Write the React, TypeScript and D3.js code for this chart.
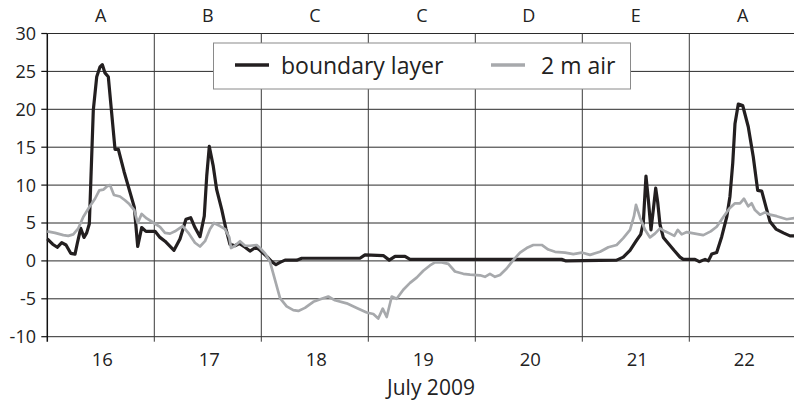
import { line, range, scaleLinear } from "d3";

const WIDTH = 794
const HEIGHT = 403

const days = [16, 17, 18, 19, 20, 21, 22]
const regimes = ["A", "B", "C", "C", "D", "E", "A"]
const yTicks = [-10, -5, 0, 5, 10, 15, 20, 25, 30]

// boundary layer (black)
const blTime = [
  15.500, 15.550, 15.593, 15.635, 15.675, 15.719, 15.759, 15.780, 15.812, 15.843,
  15.868, 15.893, 15.930, 15.962, 15.993, 16.014, 16.039, 16.070, 16.133, 16.164,
  16.217, 16.313, 16.345, 16.382, 16.422, 16.507, 16.553, 16.600, 16.684, 16.740,
  16.796, 16.840, 16.880, 16.927, 16.967, 16.990, 17.014, 17.051, 17.083, 17.130,
  17.170, 17.207, 17.254, 17.294, 17.348, 17.394, 17.450, 17.488, 17.550, 17.597,
  17.637, 17.675, 17.722, 17.831, 17.878, 18.422, 18.469, 18.640, 18.696, 18.750,
  18.843, 18.890, 20.307, 20.348, 20.821, 20.883, 20.946, 21.002, 21.046, 21.070,
  21.095, 21.117, 21.142, 21.164, 21.186, 21.205, 21.226, 21.257, 21.304, 21.357,
  21.413, 21.444, 21.553, 21.593, 21.647, 21.678, 21.710, 21.756, 21.803, 21.850,
  21.880, 21.906, 21.927, 21.958, 21.999, 22.051, 22.098, 22.139, 22.177, 22.217,
  22.254, 22.310, 22.379, 22.441, 22.497,
]
const blValue = [
  2.9, 2.2, 1.8, 2.4, 2.1, 1.0, 0.9, 2.3, 4.3, 3.1,
  3.7, 4.9, 19.9, 24.3, 25.6, 25.9, 24.8, 24.3, 14.7, 14.7,
  11.8, 7.1, 1.9, 4.4, 3.9, 3.9, 3.1, 2.6, 1.4, 2.9,
  5.5, 5.7, 4.4, 3.2, 5.9, 11.2, 15.1, 12.5, 9.4, 6.8,
  4.2, 2.2, 2.0, 2.3, 1.8, 1.3, 1.8, 1.4, 0.6, -0.1,
  -0.5, -0.2, 0.1, 0.1, 0.35, 0.35, 0.8, 0.7, 0.1, 0.6,
  0.6, 0.2, 0.2, 0.0, 0.1, 0.5, 1.4, 2.6, 3.5, 5.0,
  11.2, 8.1, 4.1, 6.8, 9.6, 7.7, 4.8, 3.1, 2.3, 1.4,
  0.5, 0.2, 0.2, -0.1, 0.2, 0.0, 0.9, 1.1, 3.2, 5.8,
  8.5, 12.9, 18.1, 20.7, 20.5, 17.7, 13.7, 9.3, 9.2, 7.1,
  5.2, 4.2, 3.7, 3.3, 3.3,
]

// 2 m air (grey)
const airTime = [
  15.500, 15.572, 15.650, 15.696, 15.743, 15.790, 15.836, 15.893, 15.946, 15.986,
  16.023, 16.055, 16.086, 16.123, 16.179, 16.226, 16.266, 16.313, 16.345, 16.382,
  16.429, 16.507, 16.553, 16.600, 16.647, 16.693, 16.765, 16.818, 16.880, 16.927,
  16.974, 17.021, 17.058, 17.114, 17.161, 17.201, 17.217, 17.254, 17.301, 17.348,
  17.394, 17.457, 17.488, 17.535, 17.581, 17.628, 17.675, 17.737, 17.799, 17.846,
  17.908, 17.986, 18.064, 18.126, 18.189, 18.298, 18.392, 18.485, 18.547, 18.593,
  18.635, 18.672, 18.719, 18.765, 18.827, 18.890, 18.952, 19.014, 19.076, 19.123,
  19.186, 19.248, 19.310, 19.388, 19.451, 19.544, 19.590, 19.637, 19.684, 19.731,
  19.793, 19.855, 19.918, 19.980, 20.042, 20.121, 20.182, 20.245, 20.338, 20.416,
  20.494, 20.572, 20.666, 20.743, 20.821, 20.883, 20.946, 20.983, 21.002, 21.040,
  21.086, 21.133, 21.179, 21.226, 21.273, 21.320, 21.360, 21.392, 21.429, 21.476,
  21.553, 21.631, 21.700, 21.756, 21.818, 21.874, 21.927, 21.974, 22.011, 22.051,
  22.083, 22.114, 22.161, 22.208, 22.254, 22.317, 22.410, 22.497,
]
const airValue = [
  3.9, 3.7, 3.4, 3.3, 3.5, 4.3, 5.8, 7.1, 8.2, 9.3,
  9.4, 9.8, 10.0, 8.7, 8.5, 8.0, 7.5, 6.7, 5.0, 6.2,
  5.6, 4.9, 4.5, 3.7, 3.6, 3.9, 4.6, 3.7, 2.4, 1.9,
  2.6, 4.2, 5.0, 4.6, 4.2, 3.1, 1.7, 2.0, 2.6, 2.0,
  2.0, 2.1, 1.7, 1.0, -0.1, -2.5, -4.9, -6.0, -6.5, -6.6,
  -6.2, -5.4, -5.0, -4.7, -5.2, -5.6, -6.2, -6.8, -7.0, -7.6,
  -6.3, -7.4, -4.7, -5.0, -3.8, -2.9, -2.2, -1.3, -0.6, -0.2,
  -0.2, -0.4, -1.4, -1.7, -1.8, -1.9, -2.1, -1.7, -2.1, -1.85,
  -1.0, 0.1, 1.1, 1.7, 2.1, 2.1, 1.5, 1.2, 1.1, 0.9,
  1.1, 0.8, 1.2, 1.8, 2.1, 3.0, 4.1, 5.9, 7.4, 5.7,
  4.1, 3.1, 3.6, 4.3, 3.9, 3.6, 3.3, 4.1, 3.5, 3.8,
  3.6, 3.4, 3.9, 4.5, 5.8, 6.9, 7.6, 7.6, 8.2, 7.2,
  7.6, 6.7, 6.1, 6.4, 6.1, 5.9, 5.5, 5.7,
]

const FONT = "'Open Sans', sans-serif"

export default function App() {
  const x = scaleLinear().domain([15.5, 22.5]).range([47.3, 796.3])
  const y = scaleLinear().domain([-10, 30]).range([336.7, 33.5])

  const blLine = line<number>()
    .x((_, i) => x(blTime[i]))
    .y((d) => y(d))
  const airLine = line<number>()
    .x((_, i) => x(airTime[i]))
    .y((d) => y(d))

  // day boundaries (noon-to-noon gridlines)
  const bounds = range(16.5, 22.5, 1)

  return (
    <svg
      width={WIDTH}
      height={HEIGHT}
      style={{ position: "absolute", left: 0, top: 0, background: "#fff" }}
      fontFamily={FONT}
    >
      {/* horizontal grid */}
      {yTicks.map((t) => (
        <line key={t} x1={x(15.5)} x2={WIDTH} y1={y(t)} y2={y(t)} stroke="#2b2b2b" strokeWidth={1} />
      ))}
      {/* vertical grid */}
      {bounds.map((b) => (
        <line key={b} x1={x(b)} x2={x(b)} y1={y(30)} y2={y(-10) + 5} stroke="#3a3a3a" strokeWidth={1} />
      ))}
      {/* left axis */}
      <line x1={x(15.5)} x2={x(15.5)} y1={y(30)} y2={y(-10) + 5} stroke="#111" strokeWidth={1.5} />
      {yTicks.map((t) => (
        <g key={t}>
          <line x1={x(15.5) - 6} x2={x(15.5)} y1={y(t)} y2={y(t)} stroke="#111" strokeWidth={1.2} />
          <text x={36} y={y(t)} dy="0.36em" textAnchor="end" fontSize={18} fill="#222">
            {t}
          </text>
        </g>
      ))}
      {days.map((d, i) => (
        <g key={d}>
          <text x={x(d) + 1.5} y={366} textAnchor="middle" fontSize={18.5} fill="#222">{d}</text>
          <text x={x(d)} y={22} textAnchor="middle" fontSize={18} fill="#222">{regimes[i]}</text>
        </g>
      ))}
      <text x={431} y={395} textAnchor="middle" fontSize={21} fill="#222">July 2009</text>

      <path d={blLine(blValue) ?? ""} fill="none" stroke="#231f20" strokeWidth={3.2} strokeLinejoin="round" />
      <path d={airLine(airValue) ?? ""} fill="none" stroke="#a7a9ac" strokeWidth={2.7} strokeLinejoin="round" />

      {/* legend */}
      <g>
        <rect x={213.5} y={43} width={417} height={46} fill="#fff" stroke="#8a8a8a" strokeWidth={1} />
        <line x1={235} x2={269} y1={65} y2={65} stroke="#231f20" strokeWidth={3.5} />
        <text x={281} y={73.5} fontSize={23} fill="#222">boundary layer</text>
        <line x1={491} x2={525} y1={65} y2={65} stroke="#a7a9ac" strokeWidth={3.5} />
        <text x={541} y={73.5} fontSize={23} fill="#222">2 m air</text>
      </g>
    </svg>
  )
}
